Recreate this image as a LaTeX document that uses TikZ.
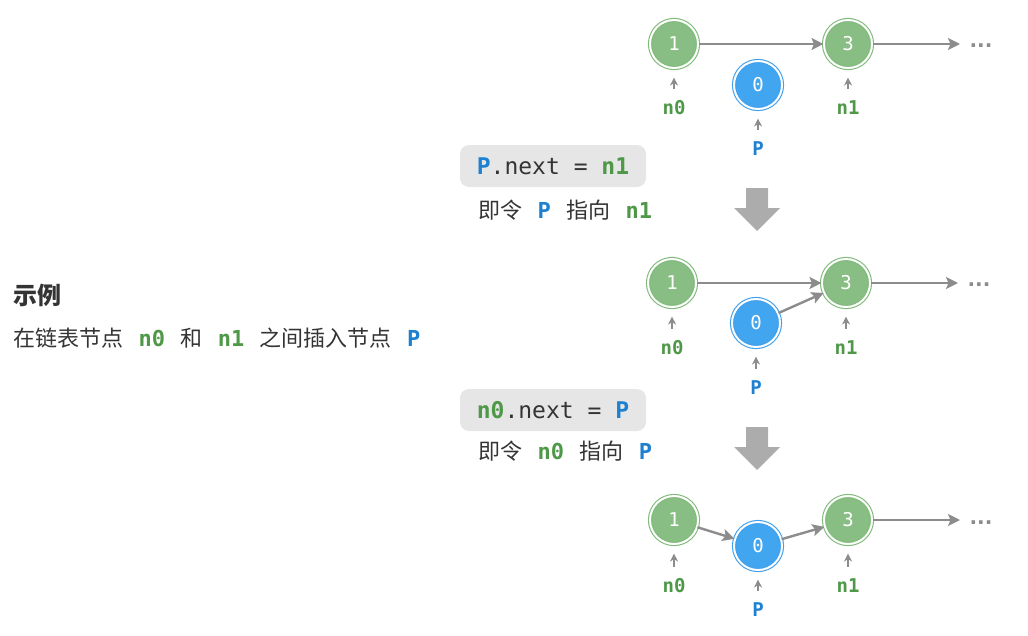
\documentclass[tikz,border=0pt]{standalone}
\usepackage{fontspec}
\setmonofont{DejaVu Sans Mono}
\newfontfamily\cjk{Noto Sans CJK SC}
\newfontfamily\dotfont{DejaVu Sans}
\usetikzlibrary{arrows.meta,positioning}
\definecolor{nodeg}{RGB}{136,190,131}
\definecolor{ringg}{RGB}{128,186,122}
\definecolor{nodeb}{RGB}{66,165,240}
\definecolor{ringb}{RGB}{64,160,236}
\definecolor{varg}{RGB}{78,152,72}
\definecolor{varb}{RGB}{30,128,208}
\definecolor{linkgray}{RGB}{140,140,140}
\definecolor{boxgray}{RGB}{230,230,230}
\definecolor{bigarrow}{RGB}{172,172,172}
\definecolor{txt}{RGB}{52,52,52}
\newcommand{\vg}[1]{{\ttfamily\bfseries\color{varg}#1}}
\newcommand{\vb}[1]{{\ttfamily\bfseries\color{varb}#1}}
\newcommand{\gap}{\hspace{0.7em}}

\begin{document}
\begin{tikzpicture}[x=1pt,y=-1pt,
  gnode/.style={circle, fill=nodeg, draw=ringg, double=white, double distance=2pt,
    line width=1.1pt, minimum size=48pt, inner sep=0pt, text=white,
    font=\ttfamily\fontsize{19}{19}\selectfont},
  bnode/.style={gnode, fill=nodeb, draw=ringb},
  link/.style={draw=linkgray, line width=2.4pt, -{Stealth[length=12pt,width=12pt,inset=2.5pt]}},
  ptr/.style={draw=linkgray, line width=2pt, -{Stealth[length=8pt,width=8pt,inset=2.5pt]},
    shorten <=12pt, shorten >=9pt},
  lbl/.style={inner sep=0pt, font=\ttfamily\bfseries\fontsize{19}{19}\selectfont},
  dots/.style={inner sep=0pt, text=linkgray, font=\dotfont\bfseries\fontsize{20}{20}\selectfont},
  codebox/.style={fill=boxgray, rounded corners=9pt, minimum width=186pt, minimum height=42pt,
    text=txt, font=\ttfamily\fontsize{23}{23}\selectfont},
  note/.style={anchor=west, inner sep=0pt, text=txt, font=\cjk\fontsize{22}{22}\selectfont}]
\useasboundingbox (0,0) rectangle (1028,635);

% Left caption
\node[anchor=west, inner sep=0pt, text=txt, font=\cjk\bfseries\fontsize{24}{24}\selectfont]
  (title) at (13,295) {示例};
\node[note] (desc) at (13,338)
  {在链表节点\gap\vg{n0}\gap 和\gap\vg{n1}\gap 之间插入节点\gap\vb{P}};

% Row 1: before insertion
\node[gnode] (a1) at (674,44) {1};
\node[gnode] (a3) at (848,44) {3};
\node[bnode] (a0) at (758,85) {0};
\coordinate (ae) at (960,44);
\node[dots] (ad) at (981,46) {...};
\draw[link] (a1) -- (a3);
\draw[link] (a3) -- (ae);
\node[lbl, text=varg] (an0) at (674,108) {n0};
\node[lbl, text=varg] (an1) at (848,108) {n1};
\node[lbl, text=varb] (ap) at (758,149) {P};
\draw[ptr] (an0) -- (a1);
\draw[ptr] (an1) -- (a3);
\draw[ptr] (ap) -- (a0);

% Step 1
\node[codebox] (c1) at (553,166) {\vb{P}.next = \vg{n1}};
\node[note] (t1) at (478,210) {即令\gap\vb{P}\gap 指向\gap\vg{n1}};

% Row 2: P points to n1
\node[gnode] (b1) at (672,283) {1};
\node[gnode] (b3) at (846,283) {3};
\node[bnode] (b0) at (756,323) {0};
\coordinate (be) at (958,283);
\node[dots] (bd) at (979,285) {...};
\draw[link] (b1) -- (b3);
\draw[link] (b0) -- (b3);
\draw[link] (b3) -- (be);
\node[lbl, text=varg] (bn0) at (672,348) {n0};
\node[lbl, text=varg] (bn1) at (846,348) {n1};
\node[lbl, text=varb] (bp) at (756,388) {P};
\draw[ptr] (bn0) -- (b1);
\draw[ptr] (bn1) -- (b3);
\draw[ptr] (bp) -- (b0);

% Step 2
\node[codebox] (c2) at (553,410) {\vg{n0}.next = \vb{P}};
\node[note] (t2) at (478,451) {即令\gap\vg{n0}\gap 指向\gap\vb{P}};

% Row 3: after insertion
\node[gnode] (d1) at (674,520) {1};
\node[bnode] (d0) at (758,546) {0};
\node[gnode] (d3) at (848,520) {3};
\coordinate (de) at (960,520);
\node[dots] (dd) at (981,523) {...};
\draw[link] (d1) -- (d0);
\draw[link] (d0) -- (d3);
\draw[link] (d3) -- (de);
\node[lbl, text=varg] (dn0) at (674,586) {n0};
\node[lbl, text=varg] (dn1) at (848,586) {n1};
\node[lbl, text=varb] (dp) at (758,610) {P};
\draw[ptr] (dn0) -- (d1);
\draw[ptr] (dn1) -- (d3);
\draw[ptr] (dp) -- (d0);

% Big down arrows between rows
\foreach \y in {188,427}
  \fill[bigarrow] (746,\y) -- (768,\y) -- (768,\y+20) -- (780,\y+20) -- (757,\y+43)
    -- (734,\y+20) -- (746,\y+20) -- cycle;
\end{tikzpicture}
\end{document}
